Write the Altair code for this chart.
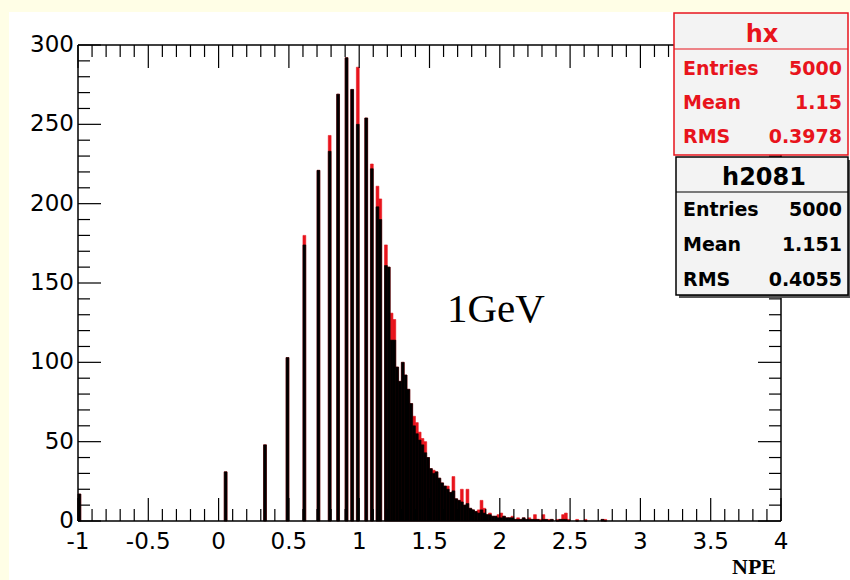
import altair as alt
import pandas as pd

# ---------------- data ----------------
bin_center = [-0.99, 0.05, 0.33, 0.49, 0.61, 0.71, 0.79, 0.85, 0.91, 0.95, 0.99,
              1.05, 1.09, 1.13, 1.15, 1.19, 1.21,
              1.23, 1.25, 1.27, 1.29, 1.31, 1.33, 1.35, 1.37, 1.39, 1.41,
              1.43, 1.45, 1.47, 1.49, 1.51, 1.53, 1.55, 1.57, 1.59, 1.61,
              1.63, 1.65, 1.67, 1.69, 1.71, 1.73, 1.75, 1.77, 1.79, 1.81,
              1.83, 1.85, 1.87, 1.89, 1.91, 1.93, 1.95, 1.97, 1.99, 2.01,
              2.03, 2.05, 2.07, 2.09, 2.11, 2.13, 2.15, 2.17, 2.19, 2.21,
              2.23, 2.25, 2.27, 2.29, 2.31, 2.33, 2.35, 2.37, 2.41, 2.43,
              2.45, 2.47, 2.49, 2.55, 2.61, 2.73, 2.75]
h2081_counts = [17, 31, 48, 103, 174, 221, 233, 269, 292, 272, 250,
                254, 222, 198, 190, 161, 160,
                114, 114, 97, 88, 100, 92, 83, 74, 60, 55,
                51, 48, 43, 40, 33, 30, 31, 27, 24, 22,
                20, 18, 19, 14, 13, 12, 10, 11, 8, 7,
                6, 5, 7, 5, 4, 4, 3, 3, 2, 2,
                3, 2, 2, 2, 1, 1, 1, 2, 1, 1,
                1, 1, 1, 0, 1, 1, 0, 1, 0, 1,
                1, 1, 0, 0, 0, 1, 0]
hx_counts = [17, 31, 48, 103, 180, 221, 243, 269, 292, 272, 286,
             254, 225, 211, 203, 174, 160,
             131, 127, 97, 88, 100, 92, 83, 74, 66, 62,
             56, 52, 50, 40, 33, 32, 31, 27, 24, 22,
             22, 18, 28, 14, 13, 20, 10, 20, 8, 7,
             6, 7, 13, 8, 4, 5, 3, 3, 4, 5,
             3, 2, 2, 3, 1, 2, 1, 2, 1, 2,
             1, 4, 1, 1, 4, 1, 1, 1, 1, 1,
             4, 5, 1, 1, 1, 1, 1]
bin_width = 0.02

x_major = [-1, -0.5, 0, 0.5, 1, 1.5, 2, 2.5, 3, 3.5, 4]
x_labels = ["-1", "-0.5", "0", "0.5", "1", "1.5", "2", "2.5", "3", "3.5", "4"]
x_minor = [round(-1 + 0.1 * i, 2) for i in range(51) if i % 5 != 0]
y_major = [0, 50, 100, 150, 200, 250, 300]
y_labels = ["0", "50", "100", "150", "200", "250", "300"]
y_minor = [v for v in range(0, 301, 10) if v % 50 != 0]

stat_names = ["Entries", "Mean", "RMS"]
hx_stats = ["5000", "1.15", "0.3978"]
h2081_stats = ["5000", "1.151", "0.4055"]
hx_title = "hx"
h2081_title = "h2081"
x_title = "NPE"
annotation = "1GeV"

# ---------------- layout ----------------
W, H = 703, 476
RED = "#e8141c"
xs = alt.Scale(domain=[-1, 4], nice=False, zero=False)
ys = alt.Scale(domain=[0, 300], nice=False, zero=True)

hist = pd.DataFrame({
    "lo": [c - bin_width / 2 for c in bin_center],
    "hi": [c + bin_width / 2 for c in bin_center],
    "hx": hx_counts,
    "h2081": h2081_counts,
})

one = pd.DataFrame({"k": [0]})


def txt(s, x, y, **kw):
    return alt.Chart(pd.DataFrame({"t": [s]})).mark_text(**kw).encode(
        text="t:N", x=alt.value(x), y=alt.value(y))


def box(x1, x2, y1, y2, **kw):
    return alt.Chart(one).mark_rect(**kw).encode(
        x=alt.value(x1), x2=alt.value(x2), y=alt.value(y1), y2=alt.value(y2))


def hline(x1, x2, y, color="black", w=1.5):
    return alt.Chart(one).mark_rule(color=color, strokeWidth=w).encode(
        x=alt.value(x1), x2=alt.value(x2), y=alt.value(y))


def vline(x, y1, y2, color="black", w=1.5):
    return alt.Chart(one).mark_rule(color=color, strokeWidth=w).encode(
        x=alt.value(x), y=alt.value(y1), y2=alt.value(y2))


layers = []
# white pad
layers.append(box(-69, 772, -33, 535, color="white"))

# histograms
layers.append(alt.Chart(hist).mark_bar(color=RED, stroke=RED, strokeWidth=0.6).encode(
    x=alt.X("lo:Q", scale=xs, axis=None), x2="hi:Q",
    y=alt.Y("hx:Q", scale=ys, axis=None), y2=alt.datum(0)))
layers.append(alt.Chart(hist).mark_bar(color="black", stroke="black", strokeWidth=0.6).encode(
    x=alt.X("lo:Q", scale=xs, axis=None), x2="hi:Q",
    y=alt.Y("h2081:Q", scale=ys, axis=None), y2=alt.datum(0)))

# frame
layers.append(hline(0, W, 0))
layers.append(hline(0, W, H))
layers.append(vline(0, 0, H))
layers.append(vline(W, 0, H))

# ticks
xmaj = pd.DataFrame({"v": x_major, "t": x_labels})
xmin = pd.DataFrame({"v": x_minor})
ymaj = pd.DataFrame({"v": y_major, "t": y_labels})
ymin = pd.DataFrame({"v": y_minor})
MAJ, MIN = 23, 12
for df, L in ((xmaj, MAJ), (xmin, MIN)):
    layers.append(alt.Chart(df).mark_rule(color="black", strokeWidth=1.2).encode(
        x=alt.X("v:Q", scale=xs, axis=None), y=alt.value(H), y2=alt.value(H - L)))
    layers.append(alt.Chart(df).mark_rule(color="black", strokeWidth=1.2).encode(
        x=alt.X("v:Q", scale=xs, axis=None), y=alt.value(0), y2=alt.value(L)))
for df, L in ((ymaj, MAJ), (ymin, MIN)):
    layers.append(alt.Chart(df).mark_rule(color="black", strokeWidth=1.2).encode(
        y=alt.Y("v:Q", scale=ys, axis=None), x=alt.value(0), x2=alt.value(L)))
    layers.append(alt.Chart(df).mark_rule(color="black", strokeWidth=1.2).encode(
        y=alt.Y("v:Q", scale=ys, axis=None), x=alt.value(W), x2=alt.value(W - L)))

# tick labels
layers.append(alt.Chart(xmaj).mark_text(font="DejaVu Sans", fontSize=23, align="center",
                                        baseline="alphabetic", color="black").encode(
    x=alt.X("v:Q", scale=xs, axis=None), y=alt.value(H + 28), text="t:N"))
layers.append(alt.Chart(ymaj).mark_text(font="DejaVu Sans", fontSize=23, align="right",
                                        baseline="middle", color="black", dx=-4).encode(
    y=alt.Y("v:Q", scale=ys, axis=None), x=alt.value(0), text="t:N"))

# axis title and annotation
layers.append(txt(x_title, 698, 529, font="Liberation Serif", fontWeight="bold", fontSize=22,
                  align="right", baseline="alphabetic", color="black"))
layers.append(txt(annotation, 369, 277, font="Liberation Serif", fontSize=41,
                  align="left", baseline="alphabetic", color="black"))

# stat box hx
layers.append(box(596, 770, -32, 110, fill="#f3f3f3", stroke=RED, strokeWidth=1.5))
layers.append(hline(596, 770, 4, color=RED, w=1.2))
layers.append(txt(hx_title, 684, -3, font="DejaVu Sans", fontWeight="bold", fontSize=24,
                  align="center", baseline="alphabetic", color=RED))
for i, (nm, v) in enumerate(zip(stat_names, hx_stats)):
    yb = 30 + 34 * i
    layers.append(txt(nm, 605, yb, font="DejaVu Sans", fontWeight="bold", fontSize=19,
                      align="left", baseline="alphabetic", color=RED))
    layers.append(txt(v, 764, yb, font="DejaVu Sans", fontWeight="bold", fontSize=19,
                      align="right", baseline="alphabetic", color=RED))

# stat box h2081 (with shadow)
layers.append(box(601, 773, 115, 253, fill="#555555"))
layers.append(box(598, 770, 112, 250, fill="#f3f3f3", stroke="black", strokeWidth=1.5))
layers.append(hline(598, 770, 147, color="black", w=1.2))
layers.append(txt(h2081_title, 686, 140, font="DejaVu Sans", fontWeight="bold", fontSize=24,
                  align="center", baseline="alphabetic", color="black"))
for i, (nm, v) in enumerate(zip(stat_names, h2081_stats)):
    yb = 171 + 35 * i
    layers.append(txt(nm, 605, yb, font="DejaVu Sans", fontWeight="bold", fontSize=19,
                      align="left", baseline="alphabetic", color="black"))
    layers.append(txt(v, 764, yb, font="DejaVu Sans", fontWeight="bold", fontSize=19,
                      align="right", baseline="alphabetic", color="black"))

chart = alt.layer(*layers).properties(
    width=W, height=H,
    autosize=alt.AutoSizeParams(type="none"),
    padding={"left": 78, "top": 45, "right": 69, "bottom": 59},
    background="#fffee6",
).configure_view(stroke=None)

chart.save("out.html", embed_options={"renderer": "svg", "actions": False})
